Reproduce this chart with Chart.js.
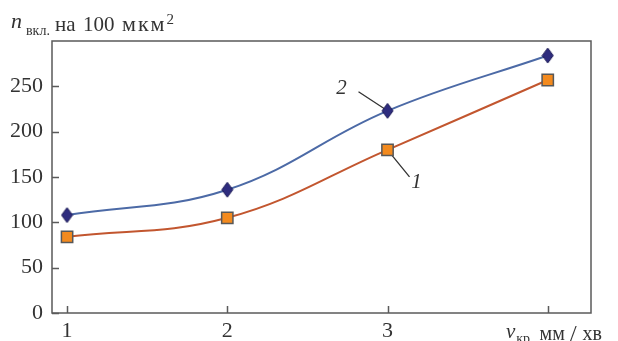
<!DOCTYPE html>
<html lang="uk">
<head>
    <meta charset="UTF-8">
    <script src="https://cdn.jsdelivr.net/npm/chart.js"></script>
    <title>n вкл на 100 мкм2</title>
</head>
<style>
    html, body { margin: 0; padding: 0; background: #fff; }
    .wrap { width: 618px; height: 341px; position: relative; }
</style>
<body>
    <div class="wrap"><canvas id="chart"></canvas></div>
<script>
    // chart values
    const xValues = [1, 2, 3, 4];
    const series1 = [84, 105, 180, 257];   // curve 1, squares
    const series2 = [108, 136, 223, 284];  // curve 2, diamonds
    const yTicks = [0, 50, 100, 150, 200, 250];
    const xTicks = [1, 2, 3, 4];
    const xTickLabels = ['1', '2', '3', ''];

    const serif = '"Liberation Serif", "DejaVu Serif", serif';
    const axisColor = '#5a5a5a';

    // diamond marker, a bit taller than wide
    function makeDiamond() {
        var c = document.createElement('canvas');
        c.width = 13; c.height = 17;
        var g = c.getContext('2d');
        g.beginPath();
        g.moveTo(6.5, 1); g.lineTo(12, 8.5); g.lineTo(6.5, 16); g.lineTo(1, 8.5);
        g.closePath();
        g.fillStyle = '#2e2c7e';
        g.fill();
        g.strokeStyle = '#1c1a55';
        g.lineWidth = 1;
        g.stroke();
        return c;
    }

    function toPoints(ys) {
        return xValues.map((x, i) => ({x: x, y: ys[i]}));
    }

    // frame, inner tick marks, titles and the 1 / 2 callouts
    const decor = {
        id: 'decor',
        beforeDatasetsDraw(chart) {
            const ctx = chart.ctx;
            const a = chart.chartArea;
            const xs = chart.scales.x, ys = chart.scales.y;
            ctx.save();
            ctx.strokeStyle = axisColor;
            ctx.lineWidth = 1.5;
            ctx.strokeRect(a.left, a.top, a.right - a.left, a.bottom - a.top);
            ctx.beginPath();
            yTicks.forEach(v => {
                var y = Math.round(ys.getPixelForValue(v)) + 0.5;
                ctx.moveTo(a.left, y); ctx.lineTo(a.left + 7, y);
            });
            xTicks.forEach(v => {
                var x = Math.round(xs.getPixelForValue(v)) + 0.5;
                ctx.moveTo(x, a.bottom); ctx.lineTo(x, a.bottom - 7);
            });
            ctx.stroke();

            // leader lines to the curves
            var p2 = chart.getDatasetMeta(1).data[2];
            var p1 = chart.getDatasetMeta(0).data[2];
            ctx.strokeStyle = '#333';
            ctx.lineWidth = 1.3;
            ctx.beginPath();
            ctx.moveTo(p2.x - 29, p2.y - 19); ctx.lineTo(p2.x, p2.y);
            ctx.moveTo(p1.x, p1.y); ctx.lineTo(p1.x + 22, p1.y + 27);
            ctx.stroke();

            ctx.fillStyle = '#333';
            ctx.textAlign = 'center';
            ctx.textBaseline = 'middle';
            ctx.font = 'italic 21px ' + serif;
            ctx.fillText('2', p2.x - 46, p2.y - 22);
            ctx.fillText('1', p1.x + 29, p1.y + 33);

            // y axis title
            ctx.textAlign = 'left';
            ctx.textBaseline = 'alphabetic';
            ctx.font = 'italic 22px ' + serif;
            ctx.fillText('n', 11, 28);
            ctx.font = '14px ' + serif;
            ctx.fillText('вкл.', 26, 35);
            ctx.font = '21px ' + serif;
            ctx.fillText('на', 55, 31);
            ctx.fillText('100', 83, 31);
            ctx.font = '22px ' + serif;
            ctx.letterSpacing = '2px';
            ctx.fillText('мкм', 122, 31);
            var w = ctx.measureText('мкм').width;
            ctx.letterSpacing = '0px';
            ctx.font = '15px ' + serif;
            ctx.fillText('2', 122 + w, 24);

            // x axis title
            var x = 506;
            ctx.font = 'italic 21px ' + serif;
            ctx.fillText('v', x, 338);
            x += ctx.measureText('v').width + 1;
            ctx.font = '14px ' + serif;
            ctx.fillText('кр,', x, 343);
            x += ctx.measureText('кр,').width + 6;
            ctx.font = '20px ' + serif;
            ctx.fillText('мм', x, 340);
            x += ctx.measureText('мм').width + 5;
            ctx.font = '24px ' + serif;
            ctx.fillText('/', x, 341);
            x += ctx.measureText('/').width + 6;
            ctx.font = '20px ' + serif;
            ctx.fillText('хв', x, 340);
            ctx.restore();
        }
    };

    const ctx = document.getElementById('chart').getContext('2d');
    new Chart(ctx, {
        type: 'line',
        data: {
            datasets: [{
                label: '1',
                data: toPoints(series1),
                borderColor: '#c2562f',
                borderWidth: 2,
                tension: 0.4,
                pointStyle: 'rect',
                pointRadius: 8,
                pointBackgroundColor: '#f38a1e',
                pointBorderColor: '#585858',
                pointBorderWidth: 1.5
            }, {
                label: '2',
                data: toPoints(series2),
                borderColor: '#4c6aa6',
                borderWidth: 2,
                tension: 0.4,
                pointStyle: makeDiamond(),
                pointRadius: 8
            }]
        },
        options: {
            responsive: true,
            maintainAspectRatio: false,
            animation: false,
            events: [],
            layout: { padding: { top: 41, right: 27, left: 0, bottom: 0 } },
            plugins: {
                legend: { display: false },
                tooltip: { enabled: false }
            },
            scales: {
                x: {
                    type: 'linear',
                    min: 0.906,
                    max: 4.27,
                    grid: { display: false, drawTicks: false },
                    border: { display: false },
                    afterBuildTicks: s => { s.ticks = xTicks.map(v => ({value: v})); },
                    afterFit: s => { s.height = 28; },
                    ticks: {
                        padding: 5,
                        color: '#333',
                        font: { family: serif, size: 22 },
                        callback: (v) => xTickLabels[xTicks.indexOf(v)]
                    }
                },
                y: {
                    min: 0,
                    max: 300,
                    grid: { display: false, drawTicks: false },
                    border: { display: false },
                    afterBuildTicks: s => { s.ticks = yTicks.map(v => ({value: v})); },
                    afterFit: s => { s.width = 52; },
                    ticks: {
                        padding: 9,
                        color: '#333',
                        font: { family: serif, size: 22 }
                    }
                }
            }
        },
        plugins: [decor]
    });
</script>
</body>
</html>
